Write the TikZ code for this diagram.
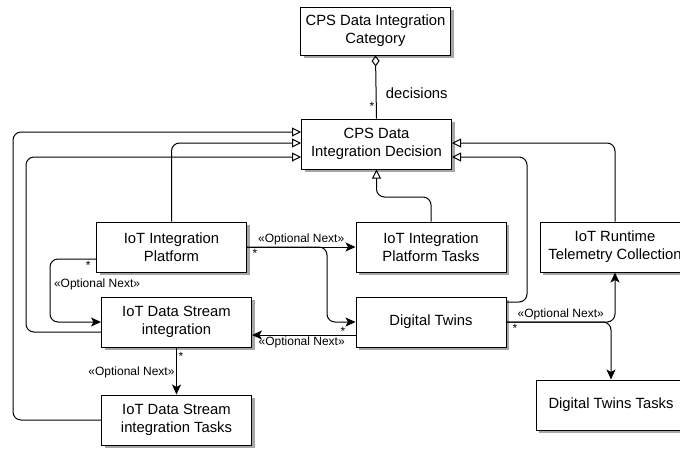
\documentclass[tikz,border=0pt]{standalone}
\usepackage{fontspec}
\setmainfont{Liberation Sans}
\usepackage{xcolor}
\usepackage{tikz}
\usetikzlibrary{arrows.meta,shadows}

\begin{document}
\begin{tikzpicture}[x=1pt, y=-1pt,
		box/.style={draw, line width=1pt, fill=white, minimum width=150pt, minimum height=50pt, inner sep=0pt, align=center, font=\fontsize{14.8}{18}\selectfont, drop shadow={shadow xshift=3pt, shadow yshift=-3pt, fill=black!35, opacity=1}},
		lbl/.style={font=\fontsize{12}{14}\selectfont, inner sep=1.5pt},
		inh/.style={-{Triangle[open, length=9pt, width=9pt]}, line width=1pt, rounded corners=8pt},
		nxt/.style={-{Stealth[length=10pt, width=9pt, inset=2.5pt]}, line width=1pt, rounded corners=8pt},
		agg/.style={{Diamond[open, length=11pt, width=8pt]}-, line width=1pt}]
			\useasboundingbox (0,0) rectangle (680,448);
			\clip (0,0) rectangle (680,448);
			\node[box, minimum height=48pt] (cat) at (375.5,31) {CPS Data Integration\\Category};
			\node[box] (dec) at (376.5,144) {CPS Data\\Integration Decision};
			\node[box] (iip) at (171.5,247) {IoT Integration\\Platform};
			\node[box] (iipt) at (431,247) {IoT Integration\\Platform Tasks};
			\node[box] (itc) at (615,247) {IoT Runtime\\Telemetry Collection};
			\node[box] (dsi) at (176.5,322) {IoT Data Stream\\integration};
			\node[box] (dt) at (431,322) {Digital Twins};
			\node[box] (dst) at (176.5,420) {IoT Data Stream\\integration Tasks};
			\node[box] (dtt) at (611,405) {Digital Twins Tasks};
			\draw[agg] (cat.south) -- node[pos=0.8, left, lbl] {*} node[pos=0.6, right, xshift=6pt, font=\fontsize{14.8}{18}\selectfont] {decisions} (dec.north);
			\draw[inh] (dst.west) -| (13,132) -- (dec.west |- 0,132);
			\draw[inh] (iip.north) |- ([yshift=1pt]dec.west);
			\draw[inh] ([yshift=-10pt]dsi.west) -| (26,157) -- (dec.west |- 0,157);
			\draw[inh] (itc.north) |- ([yshift=1pt]dec.east);
			\draw[inh] ([yshift=20pt]dt.east) -| (527,157) -- (dec.east |- 0,157);
			\draw[inh] (iipt.north) |- (dec.south |- 0,197) -- (dec.south);
			\draw[nxt] (iip.east) -- node[above, lbl] {«Optional Next»} (iipt.west);
			\draw[nxt] (iip.east) -- node[pos=0.1, below, lbl] {*} (327,247) |- (dt.west);
			\draw[nxt] ([yshift=-12pt]iip.west) -- node[pos=0.17, below, lbl] {*} (50,259) |- node[pos=0.2, right, lbl, xshift=2pt] {«Optional Next»} (dsi.west);
			\draw[nxt] ([yshift=-13pt]dt.west) -- node[pos=0.12, above, lbl, yshift=-2pt] {*} node[pos=0.52, below, lbl] {«Optional Next»} ([yshift=-13pt]dsi.east);
			\draw[nxt] (dsi.south) -- node[pos=0.19, right, lbl] {*} node[pos=0.52, left, lbl] {«Optional Next»} (dst.north);
			\draw[nxt] (dt.east) -| node[pos=0.25, above, lbl] {«Optional Next»} (itc.south);
			\draw[nxt] (dt.east) -| node[pos=0.04, below, lbl] {*} (dtt.north);
		\end{tikzpicture}
\end{document}
